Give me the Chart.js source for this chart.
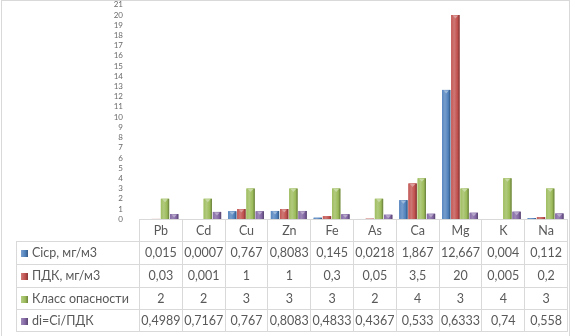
<!DOCTYPE html>
<html>
<head>
<meta charset="utf-8">
<script src="https://cdn.jsdelivr.net/npm/chart.js@4/dist/chart.umd.min.js"></script>
<style>
  html, body { margin:0; padding:0; background:#fff; }
  #wrap { position:relative; width:573px; height:336px; overflow:hidden; font-family: Lato, "Noto Sans", sans-serif; }
  #frame { position:absolute; left:1px; top:0; width:569px; height:345px; border:1px solid #D9D9D9; box-sizing:border-box; }
  #c { position:absolute; left:0; top:0; }
  #tbl { position:absolute; top:223px; left:16px; z-index:2; border-collapse:collapse; table-layout:fixed; color:#595959; font-size:12.5px; }
  #tbl td { border:1px solid #D9D9D9; padding:0; text-align:center; white-space:nowrap; overflow:visible; line-height:14px; }
  #tbl td.lab { text-align:left; padding-left:4px; }
  #tbl td.blank { border:none; }
  .key { display:inline-block; width:7px; height:7px; margin-right:4px; vertical-align:0px; }
</style>
</head>
<body>
<div id="wrap">
  <div id="frame"></div>
  <canvas id="c" width="573" height="240"></canvas>
  <table id="tbl"></table>
</div>
<script>
const categories = ["Pb","Cd","Cu","Zn","Fe","As","Ca","Mg","K","Na"];
const seriesNames = ["Ciср, мг/м3","ПДК, мг/м3","Класс опасности","di=Ci/ПДК"];
const ciValues = [0.015,0.0007,0.767,0.8083,0.145,0.0218,1.867,12.667,0.004,0.112];
const pdkValues = [0.03,0.001,1,1,0.3,0.05,3.5,20,0.005,0.2];
const classValues = [2,2,3,3,3,2,4,3,4,3];
const diValues = [0.4989,0.7167,0.767,0.8083,0.4833,0.4367,0.533,0.6333,0.74,0.558];
const yTicks = {min:0, max:21, step:1};

const baseColors = ["#4F81BD","#C0504D","#9BBB59","#8064A2"];
const allValues = [ciValues, pdkValues, classValues, diValues];

function shade(hex, amt){
  const n = parseInt(hex.slice(1),16);
  let r=(n>>16)&255,g=(n>>8)&255,b=n&255;
  const f = c => amt>=0 ? Math.round(c+(255-c)*amt) : Math.round(c*(1+amt));
  return `rgb(${f(r)},${f(g)},${f(b)})`;
}

const bevel = {
  id:'bevel',
  afterDatasetsDraw(chart){
    const ctx = chart.ctx;
    ctx.save();
    chart.data.datasets.forEach((ds,i)=>{
      const meta = chart.getDatasetMeta(i);
      const c = baseColors[i];
      meta.data.forEach(el=>{
        const {x,y,base,width} = el.getProps(['x','y','base','width'],true);
        const h = base - y;
        if (h <= 0) return;
        const l = x - width/2;
        const g = ctx.createLinearGradient(l,0,l+width,0);
        g.addColorStop(0, shade(c,0.05));
        g.addColorStop(0.35, shade(c,0.22));
        g.addColorStop(0.75, c);
        g.addColorStop(1, shade(c,-0.35));
        ctx.fillStyle = g;
        ctx.fillRect(l, y, width, h);
        if (h > 4) {
          ctx.fillStyle = shade(c,0.45);
          ctx.beginPath();
          ctx.moveTo(l+1.5, y+0.5);
          ctx.lineTo(l+width-1.5, y+0.5);
          ctx.lineTo(x, y+3.5);
          ctx.closePath();
          ctx.fill();
        }
      });
    });
    ctx.restore();
  }
};

const canvas = document.getElementById('c');
const chart = new Chart(canvas, {
  type:'bar',
  data:{
    labels: categories,
    datasets: seriesNames.map((name,i)=>({
      label:name, data:allValues[i], backgroundColor:baseColors[i],
      borderWidth:0, categoryPercentage:0.86, barPercentage:0.9
    }))
  },
  options:{
    responsive:false, animation:false, devicePixelRatio:1,
    layout:{ padding:{ left:0, right:6, top:0, bottom:0 } },
    plugins:{ legend:{display:false}, tooltip:{enabled:false} },
    scales:{
      x:{ display:false },
      y:{
        min:yTicks.min, max:yTicks.max,
        afterFit(s){ s.width = 139; },
        grid:{ display:false }, border:{ display:false },
        ticks:{ stepSize:yTicks.step, autoSkip:false, color:"#6a6a6a", padding:8, font:{ family:"Lato, 'Noto Sans', sans-serif", size:8 } }
      }
    }
  },
  plugins:[bevel]
});

// size the canvas so the plot area spans the reference frame (top 5, zero line at 223)
const plotTop = 5, plotBottom = 223;
let a = chart.chartArea;
chart.resize(573, Math.round(chart.height + ((plotBottom - plotTop) - (a.bottom - a.top))));
a = chart.chartArea;
canvas.style.top = (plotTop - a.top) + 'px';

// Data table under the chart
const tbl = document.getElementById('tbl');
const colW = (a.right - a.left) / categories.length;
const labW = a.left - 16;
let colgroup = `<colgroup><col style="width:${labW}px">` + categories.map(()=>`<col style="width:${colW}px">`).join('') + `</colgroup>`;
let html = colgroup + `<tr style="height:22px"><td class="blank"></td>` + categories.map(c=>`<td>${c}</td>`).join('') + `</tr>`;
const rowH = [23,23,22,22];
seriesNames.forEach((name,i)=>{
  const c = baseColors[i];
  const key = `<span class="key" style="background:linear-gradient(90deg, ${shade(c,0.25)}, ${c} 60%, ${shade(c,-0.3)})"></span>`;
  html += `<tr style="height:${rowH[i]}px"><td class="lab">${key}${name}</td>` +
    allValues[i].map(v=>`<td>${String(v).replace('.',',')}</td>`).join('') + `</tr>`;
});
tbl.innerHTML = html;
tbl.style.width = (labW + colW*categories.length) + 'px';
tbl.style.top = Math.round(plotTop - a.top + a.bottom) + 'px';
</script>
</body>
</html>
